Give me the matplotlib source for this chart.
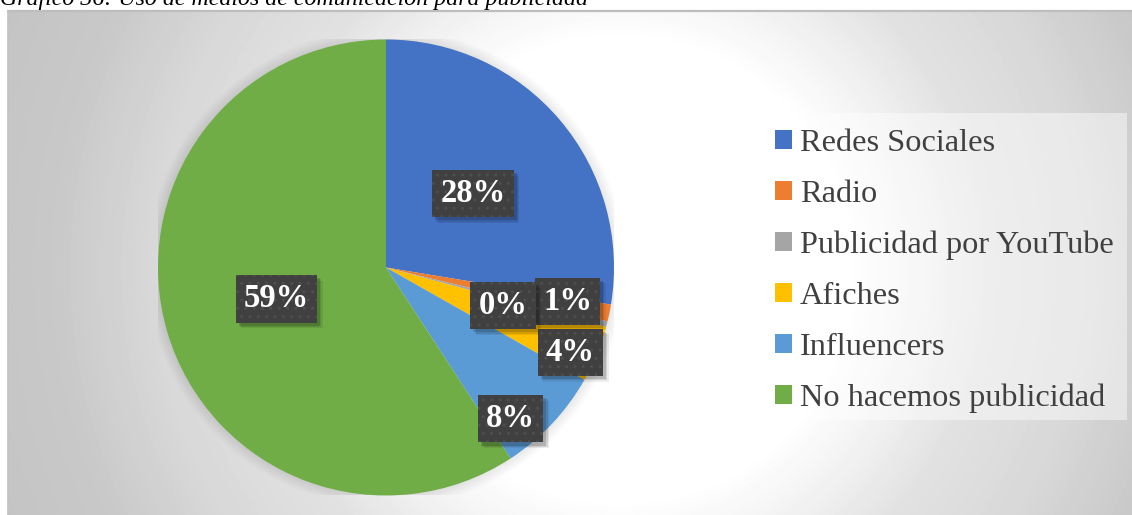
import numpy as np
import matplotlib
matplotlib.use("Agg")
import matplotlib.pyplot as plt
import matplotlib.patheffects as pe
from matplotlib.patches import Patch, Rectangle, Circle
from matplotlib.lines import Line2D

# ---- data ----
categories = ["Redes Sociales", "Radio", "Publicidad por YouTube",
              "Afiches", "Influencers", "No hacemos publicidad"]
shares = [27.6, 1.2, 0.4, 4.0, 7.6, 59.2]
colors = ["#4472C4", "#ED7D31", "#A5A5A5", "#FFC000", "#5B9BD5", "#70AD47"]
title = "Gráfico 36: Uso de medios de comunicación para publicidad"

# label placement (fraction of radius, angular nudge in degrees)
label_r = [0.50, 0.81, 0.54, 0.89, 0.86, 0.50]
label_dtheta = [0.0, 1.0, -3.7, -2.4, -7.3, -0.6]

SERIF = "Liberation Serif"
W, H, DPI = 1132, 515, 100
fig = plt.figure(figsize=(W / DPI, H / DPI), dpi=DPI)
fig.patch.set_facecolor("white")

# ---- chart area with radial gradient fill ----
x0, ytop = 8, 11
bg = fig.add_axes([x0 / W, 0, (W - x0) / W, (H - ytop) / H], zorder=0)
bg.axis("off")
xs = np.arange(x0, W) + 0.5
ys = np.arange(ytop, H) + 0.5
X, Y = np.meshgrid(xs, ys)
rad = np.hypot(X - 620, Y - 270)
shade = np.interp(rad, [0, 230, 300, 370, 460, 570, 700],
                  [255, 255, 241, 225, 217, 200, 194]) / 255.0
bg.imshow(shade, cmap="gray", vmin=0, vmax=1, aspect="auto",
          interpolation="bilinear")
fig.add_artist(Line2D([x0 / W, 1], [1 - ytop / H, 1 - ytop / H],
                      transform=fig.transFigure, color="#bdbdbd", lw=1.6))
fig.add_artist(Line2D([x0 / W, x0 / W], [0, 1 - ytop / H],
                      transform=fig.transFigure, color="#c2c2c2", lw=1.2))

# ---- title (partly above the canvas) ----
fig.text(0.0, 1 - 5 / H, title, family=SERIF, fontstyle="italic",
         fontsize=17.2, color="black", va="baseline", ha="left")

# ---- pie ----
cx, cy, R = 386, 267.5, 228
ax = fig.add_axes([(cx - R) / W, 1 - (cy + R) / H, 2 * R / W, 2 * R / H],
                  zorder=2)
ax.axis("off")
for k in range(1, 12):
    ax.add_patch(Circle((0, 0), 1 + 0.0045 * k, facecolor="black",
                        alpha=0.009, lw=0, zorder=0))
wedges, _ = ax.pie(shares, colors=colors, startangle=90,
                   counterclock=False, radius=1,
                   wedgeprops=dict(linewidth=0, zorder=1))
ax.set_xlim(-1, 1)
ax.set_ylim(-1, 1)

# soft drop shadow for the value boxes (stacked translucent offsets)
box_shadow = [pe.PathPatchEffect(offset=(o, -o), facecolor="black",
                                 edgecolor="none", alpha=a)
              for o, a in [(4.0, 0.07), (3.0, 0.10), (2.2, 0.14)]]
box_shadow.append(pe.Normal())

for w, s, rf, dth in zip(wedges, shares, label_r, label_dtheta):
    ang = np.deg2rad((w.theta1 + w.theta2) / 2 + dth)
    lx, ly = rf * np.cos(ang), rf * np.sin(ang)
    t = ax.text(lx, ly, f"{s:.0f}%", ha="center", va="center",
                family=SERIF, fontweight="bold", fontsize=23.5,
                color="white", zorder=4,
                bbox=dict(boxstyle="square,pad=0.25", facecolor="#404040",
                          edgecolor="#4e4e4e", linewidth=0, hatch=".."))
    t.get_bbox_patch().set_path_effects(box_shadow)

# ---- legend ----
fig.add_artist(Rectangle((762 / W, 1 - 420 / H), (1127 - 762) / W,
                         (420 - 113) / H, transform=fig.transFigure,
                         facecolor="white", alpha=0.45, edgecolor="none",
                         zorder=1))
handles = [Patch(facecolor=c, edgecolor="none") for c in colors]
leg = fig.legend(handles, categories, loc="upper left",
                 bbox_to_anchor=(775 / W, 1 - 129 / H), frameon=False,
                 prop=dict(family=SERIF, size=23.3), labelcolor="#404040",
                 handlelength=0.52, handleheight=0.52, handletextpad=0.25,
                 labelspacing=0.675, borderpad=0, borderaxespad=0)
leg.set_zorder(5)

fig.savefig("out.png", dpi=DPI)
